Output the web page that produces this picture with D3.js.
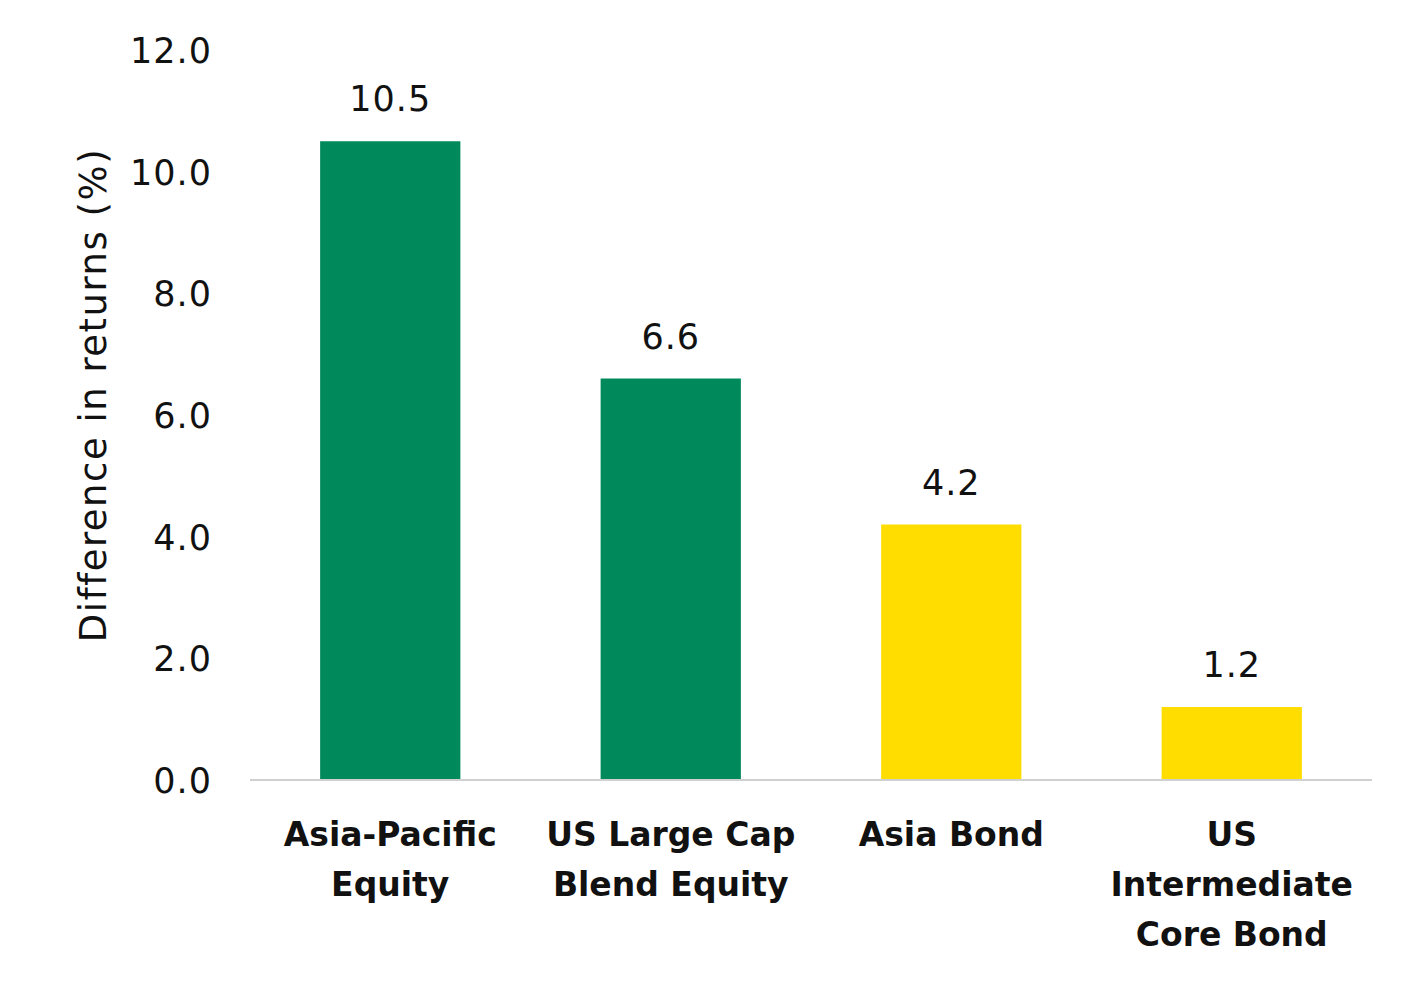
<!DOCTYPE html>
<html><head><meta charset="utf-8">
<script src="https://cdn.jsdelivr.net/npm/d3@7"></script>
<style>body{margin:0;background:#fff}text{font-family:"DejaVu Sans","Liberation Sans",sans-serif;fill:#111}</style>
</head><body><svg width="1422" height="985"></svg>
<script>
const categories = [["Asia-Pacific", "Equity"], ["US Large Cap", "Blend Equity"], ["Asia Bond"], ["US", "Intermediate", "Core Bond"]];
const values = [10.5, 6.6, 4.2, 1.2];
const barColors = ["#008a5b", "#008a5b", "#ffdd00", "#ffdd00"];
const yTicks = [0, 2, 4, 6, 8, 10, 12];

const svg = d3.select("svg");
const x = d3.scaleBand().domain(d3.range(values.length)).range([250, 1372]).padding(0.5).paddingOuter(0.25);
const y = d3.scaleLinear().domain([0, 12]).range([780, 50]);

// y tick labels
svg.selectAll(".yt").data(yTicks).enter().append("text")
	.attr("x", 212).attr("y", d => y(d) + 13)
	.attr("text-anchor", "end").attr("font-size", 35).attr("letter-spacing", 1)
	.text(d => d.toFixed(1));

svg.append("text")
	.attr("transform", "translate(106,395) rotate(-90)")
	.attr("text-anchor", "middle").attr("font-size", 37).attr("letter-spacing", 1.5)
	.text("Difference in returns (%)");

// bars
svg.selectAll("rect").data(values).enter().append("rect")
	.attr("x", (d, i) => x(i)).attr("width", x.bandwidth())
	.attr("y", d => y(d)).attr("height", d => y(0) - y(d))
	.attr("fill", (d, i) => barColors[i]);

// value labels
svg.selectAll(".vl").data(values).enter().append("text")
	.attr("x", (d, i) => x(i) + x.bandwidth() / 2).attr("y", d => y(d) - 30)
	.attr("text-anchor", "middle").attr("font-size", 35).attr("letter-spacing", 1)
	.text(d => d.toFixed(1));

// axis line
svg.append("line").attr("x1", 250).attr("x2", 1372).attr("y1", y(0)).attr("y2", y(0))
	.attr("stroke", "#d0d0d0").attr("stroke-width", 2);

// category labels
categories.forEach((lines, i) => {
	const t = svg.append("text").attr("text-anchor", "middle").attr("font-size", 33).attr("font-weight", "bold");
	lines.forEach((l, j) => {
		t.append("tspan").attr("x", x(i) + x.bandwidth() / 2).attr("y", 846 + j * 50).text(l);
	});
});
</script></body></html>
